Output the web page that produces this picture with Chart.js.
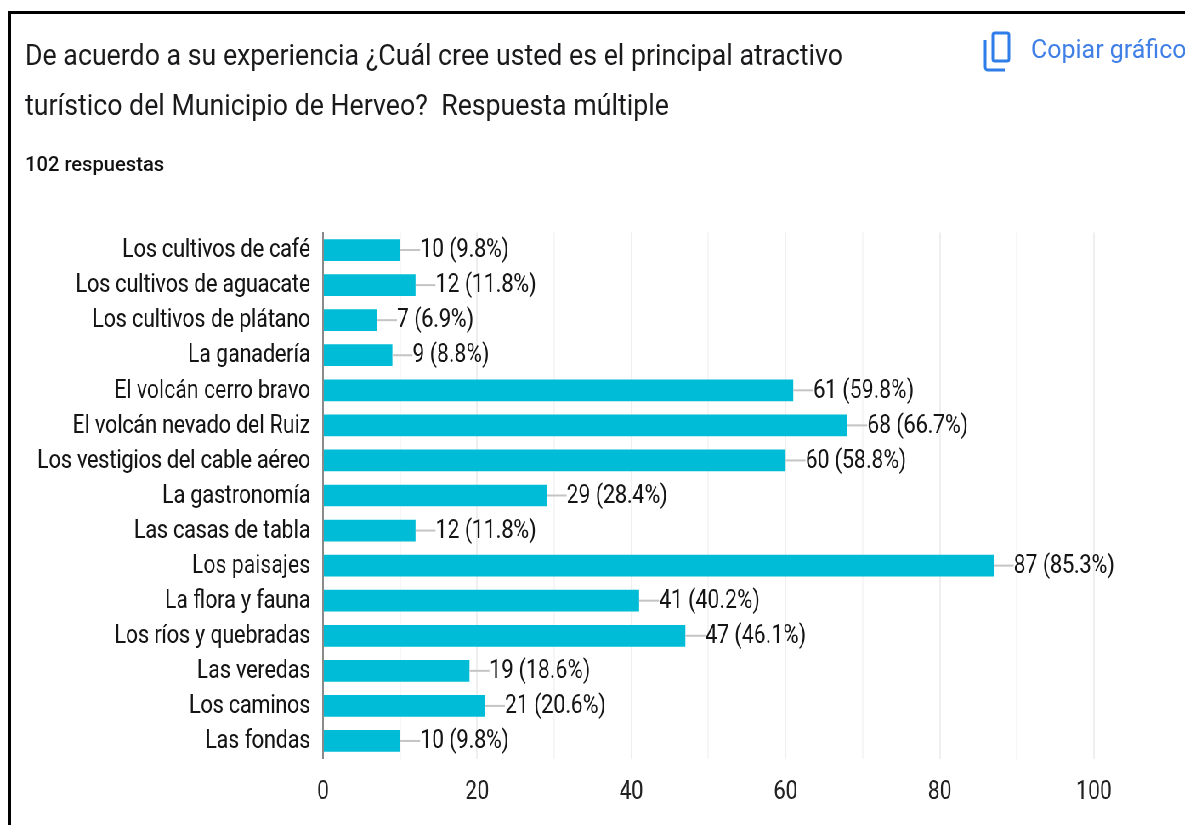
<!DOCTYPE html>
<html lang="es"><head><meta charset="utf-8">
<script src="https://cdn.jsdelivr.net/npm/chart.js@4"></script>
<style>
html,body{margin:0;padding:0;background:#fff;width:1185px;height:825px;overflow:hidden}
#wrap{position:relative;width:1185px;height:825px;overflow:hidden;filter:blur(0.7px)}
#cw{position:absolute;left:0;top:0;transform:scaleX(0.85);transform-origin:0 0}
canvas{display:block}
.t{position:absolute;white-space:nowrap;font-family:Roboto,sans-serif;color:#1a1a1c;transform-origin:0 0}
#frameT{position:absolute;left:8px;top:11px;width:1177px;height:3px;background:#000}
#frameL{position:absolute;left:8px;top:11px;width:3px;height:814px;background:#000}
#icon{position:absolute;left:983px;top:31px}
</style></head><body>
<div id="wrap">
<div id="cw"><canvas id="c" width="1394" height="825"></canvas></div>
<div id="frameT"></div><div id="frameL"></div>
<div class="t" style="left:25px;top:38px;font-size:30px;line-height:34px;transform:scaleX(0.891)">De acuerdo a su experiencia ¿Cuál cree usted es el principal atractivo</div>
<div class="t" style="left:25px;top:88px;font-size:30px;line-height:34px;transform:scaleX(0.891)">turístico del Municipio de Herveo?&nbsp; Respuesta múltiple</div>
<div class="t" style="left:25px;top:152px;font-size:21px;line-height:24px;font-weight:500;color:#111;transform:scaleX(0.96)">102 respuestas</div>
<svg id="icon" width="28" height="42" viewBox="0 0 28 42" fill="none" stroke="#2f7de8" stroke-width="3"><rect x="10" y="2" width="16" height="28" rx="2"/><path d="M2 9V36a3 3 0 0 0 3 3H22"/></svg>
<div class="t" style="left:1031px;top:33px;font-size:26px;line-height:32px;color:#3f7fe6;transform:scaleX(0.96)">Copiar gráfico</div>
</div>
<script>
const categories=["Los cultivos de café","Los cultivos de aguacate","Los cultivos de plátano","La ganadería","El volcán cerro bravo","El volcán nevado del Ruiz","Los vestigios del cable aéreo","La gastronomía","Las casas de tabla","Los paisajes","La flora y fauna","Los ríos y quebradas","Las veredas","Los caminos","Las fondas"];
const responses=[10,12,7,9,61,68,60,29,12,87,41,47,19,21,10];
const percentLabels=["9.8%","11.8%","6.9%","8.8%","59.8%","66.7%","58.8%","28.4%","11.8%","85.3%","40.2%","46.1%","18.6%","20.6%","9.8%"];
const axisTicks=[0,20,40,60,80,100];
const FONT='Roboto,sans-serif';
const K=0.85;
const valueLabels={id:'valueLabels',afterDatasetsDraw(chart){
  const {ctx,scales:{x,y}}=chart;ctx.save();
  responses.forEach((v,i)=>{
    const xe=x.getPixelForValue(v),yc=y.getPixelForValue(i);
    ctx.strokeStyle='#c4c4c4';ctx.lineWidth=2;ctx.beginPath();ctx.moveTo(xe,yc);ctx.lineTo(xe+20/K,yc);ctx.stroke();
    ctx.fillStyle='#151515';ctx.font='25px '+FONT;ctx.textAlign='left';ctx.textBaseline='middle';
    ctx.fillText(v+' ('+percentLabels[i]+')',xe+20/K,yc+1);
  });ctx.restore();
}};
new Chart(document.getElementById('c'),{type:'bar',
 data:{labels:categories,datasets:[{data:responses,backgroundColor:'#00bcd6',categoryPercentage:0.62,barPercentage:1}]},
 plugins:[valueLabels],
 options:{indexAxis:'y',responsive:false,animation:false,devicePixelRatio:1,
  layout:{padding:{left:0,right:91/K,top:232.5,bottom:0}},
  plugins:{legend:{display:false},tooltip:{enabled:false},title:{display:false}},
  scales:{
   x:{min:0,max:100,position:'bottom',afterFit(s){s.height=66.5},
      ticks:{stepSize:10,autoSkip:false,maxRotation:0,padding:19,color:'#222',font:{family:FONT,size:25},
             callback:v=>axisTicks.includes(v)?String(v):''},
      grid:{color:c=>c.tick&&c.tick.value%20===0?'#efefef':'#f6f6f6',lineWidth:2,drawTicks:false},border:{display:false}},
   y:{afterFit(s){s.width=323/K},
      ticks:{padding:7,labelOffset:1,autoSkip:false,color:'#151515',font:{family:FONT,size:25}},
      grid:{display:false},border:{display:true,color:'#8a8a8a',width:2}}
  }}});
</script></body></html>
